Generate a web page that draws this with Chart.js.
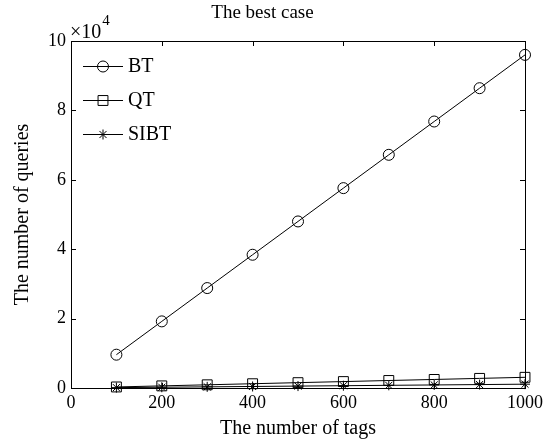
<!DOCTYPE html>
<html><head><meta charset="utf-8">
<script src="https://cdn.jsdelivr.net/npm/chart.js@4"></script>
<style>html,body{margin:0;padding:0;background:#fff}</style>
</head><body>
<canvas id="c" width="555" height="441" style="display:block;width:555px;height:441px"></canvas>
<script>
const tags = [100, 200, 300, 400, 500, 600, 700, 800, 900, 1000];
const btQueries = [9600, 19200, 28800, 38400, 48000, 57600, 67200, 76800, 86400, 96000];
const qtQueries = [300, 610, 920, 1230, 1540, 1850, 2160, 2460, 2770, 3080];
const sibtQueries = [110, 220, 330, 440, 550, 660, 770, 880, 990, 1100];
const seriesNames = ['BT', 'QT', 'SIBT'];
const xTicks = [0, 200, 400, 600, 800, 1000];
const yTicks = [0, 2, 4, 6, 8, 10];
const yExponent = 4;
const chartTitle = 'The best case';
const xTitle = 'The number of tags';
const yTitle = 'The number of queries';

const FONT = '"Liberation Serif", "Times New Roman", serif';
const scaleFactor = Math.pow(10, yExponent);

const styles = [
  {pointStyle: 'circle', radius: 5.5},
  {pointStyle: 'rect', radius: 7},
  {pointStyle: 'star', radius: 5}
];
const seriesData = [btQueries, qtQueries, sibtQueries];

const datasets = seriesData.map((vals, i) => ({
  label: seriesNames[i],
  data: tags.map((t, j) => ({x: t, y: vals[j]})),
  borderColor: '#000',
  borderWidth: 1,
  pointStyle: styles[i].pointStyle,
  pointRadius: styles[i].radius,
  pointBorderColor: '#000',
  pointBorderWidth: 1,
  pointBackgroundColor: 'rgba(0,0,0,0)',
  fill: false,
  tension: 0,
  clip: false
}));

const matlabPlugin = {
  id: 'matlab',
  afterDatasetsDraw(chart) {
    const ctx = chart.ctx;
    const a = chart.chartArea;
    const xs = chart.scales.x, ys = chart.scales.y;
    ctx.save();
    ctx.strokeStyle = '#000';
    ctx.lineWidth = 1;
    // frame
    ctx.strokeRect(Math.round(a.left) + 0.5, Math.round(a.top) + 0.5,
      Math.round(a.right) - Math.round(a.left), Math.round(a.bottom) - Math.round(a.top));
    const tl = 5;
    ctx.beginPath();
    xTicks.forEach(v => {
      const px = Math.round(xs.getPixelForValue(v)) + 0.5;
      ctx.moveTo(px, a.bottom); ctx.lineTo(px, a.bottom - tl);
      ctx.moveTo(px, a.top); ctx.lineTo(px, a.top + tl);
    });
    yTicks.forEach(v => {
      const py = Math.round(ys.getPixelForValue(v * scaleFactor)) + 0.5;
      ctx.moveTo(a.left, py); ctx.lineTo(a.left + tl, py);
      ctx.moveTo(a.right, py); ctx.lineTo(a.right - tl, py);
    });
    ctx.stroke();

    // exponent label
    ctx.fillStyle = '#000';
    ctx.textAlign = 'left';
    ctx.textBaseline = 'alphabetic';
    ctx.font = '20px ' + FONT;
    const base = '\u00d710';
    ctx.fillText(base, a.left - 1, a.top - 3);
    const w = ctx.measureText(base).width;
    ctx.font = '15px ' + FONT;
    ctx.fillText(String(yExponent), a.left - 1 + w + 1, a.top - 16);

    // legend
    chart.data.datasets.forEach((ds, i) => {
      const y = 66 + 34 * i;
      ctx.strokeStyle = '#000';
      ctx.lineWidth = 1;
      ctx.beginPath();
      ctx.moveTo(83, y + 0.5); ctx.lineTo(123, y + 0.5);
      ctx.stroke();
      ctx.fillStyle = 'rgba(0,0,0,0)';
      Chart.helpers.drawPoint(ctx, {
        pointStyle: styles[i].pointStyle, radius: styles[i].radius, rotation: 0, borderWidth: 1
      }, 103, y + 0.5);
      ctx.fillStyle = '#000';
      ctx.font = '20px ' + FONT;
      ctx.textAlign = 'left';
      ctx.textBaseline = 'middle';
      ctx.fillText(ds.label, 128, y + 1);
    });
    ctx.restore();
  }
};

new Chart(document.getElementById('c'), {
  type: 'line',
  data: {datasets},
  options: {
    responsive: false,
    animation: false,
    layout: {padding: {left: 0, right: 30, top: 0, bottom: 0}},
    plugins: {
      legend: {display: false},
      tooltip: {enabled: false},
      title: {
        display: true, text: chartTitle, color: '#000',
        font: {family: FONT, size: 19, weight: 'normal'},
        padding: {top: 2, bottom: 16.2}
      }
    },
    scales: {
      x: {
        type: 'linear', min: 0, max: 1000,
        afterBuildTicks: s => { s.ticks = xTicks.map(v => ({value: v})); },
        afterFit: s => { s.height = 53; },
        grid: {display: false, drawTicks: false, tickLength: 0},
        border: {display: false},
        ticks: {color: '#000', font: {family: FONT, size: 18}, padding: 4, maxRotation: 0, autoSkip: false,
          callback: v => String(v)},
        title: {display: true, text: xTitle, color: '#000', font: {family: FONT, size: 20}, padding: {top: 0, bottom: 0}}
      },
      y: {
        type: 'linear', min: 0, max: 10 * scaleFactor,
        afterBuildTicks: s => { s.ticks = yTicks.map(v => ({value: v * scaleFactor})); },
        afterFit: s => { s.width = 71; },
        grid: {display: false, drawTicks: false, tickLength: 0},
        border: {display: false},
        ticks: {color: '#000', font: {family: FONT, size: 18}, padding: 5, autoSkip: false,
          callback: v => String(Math.round(v / scaleFactor))},
        title: {display: true, text: yTitle, color: '#000', font: {family: FONT, size: 20}, padding: {top: 11, bottom: 0}}
      }
    }
  },
  plugins: [matlabPlugin]
});
</script>
</body></html>
